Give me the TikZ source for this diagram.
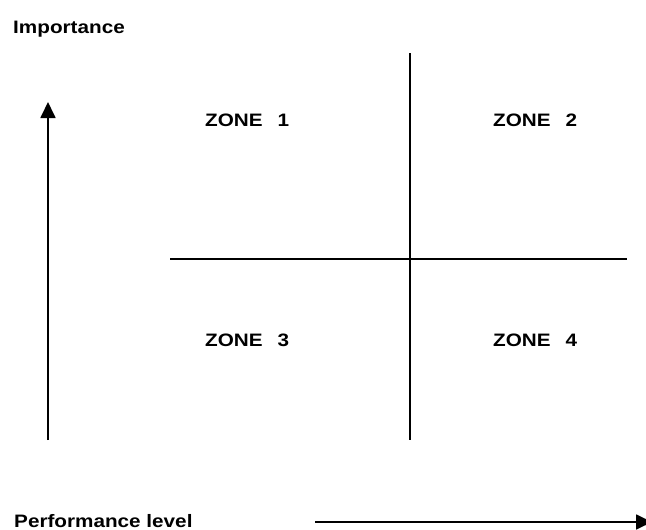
\documentclass[tikz,border=0pt]{standalone}
\usepackage{fontspec}
\setmainfont{Liberation Sans}[FakeStretch=1.15]
\usetikzlibrary{arrows.meta, positioning}
\tikzset{
  axislabel/.style={font=\bfseries\fontsize{18}{21}\selectfont, inner sep=0pt},
  zonelabel/.style={axislabel},
  axis/.style={-{Triangle[length=16pt,width=15pt]}, line width=1.8pt},
  divider/.style={line width=1.8pt},
}
\newcommand{\zonegap}{\hspace{15pt}}

\begin{document}
\begin{tikzpicture}[x=1pt, y=-1pt]
  \useasboundingbox (0,0) rectangle (646,530);

  % quadrant grid
  \coordinate (gridtop) at (410,53);
  \coordinate (gridbottom) at (410,440);
  \coordinate (gridleft) at (170,259);
  \coordinate (gridright) at (627,259);
  \draw[divider] (gridtop) -- (gridbottom);
  \draw[divider] (gridleft) -- (gridright);

  % axes
  \coordinate (impstart) at (48,440);
  \coordinate (impend) at (48,102);
  \coordinate (perfstart) at (315,522);
  \coordinate (perfend) at (652,522);
  \draw[axis] (impstart) -- (impend);
  \draw[axis] (perfstart) -- (perfend);

  \node[axislabel, anchor=base west] (importance) at (13,33) {Importance};
  \node[axislabel, anchor=base west] (performance) at (14,527) {Performance level};

  \node[zonelabel, anchor=base west] (zone1) at (205,126) {ZONE\zonegap1};
  \node[zonelabel, anchor=base west] (zone2) at (493,126) {ZONE\zonegap2};
  \node[zonelabel, anchor=base west] (zone3) at (205,346) {ZONE\zonegap3};
  \node[zonelabel, anchor=base west] (zone4) at (493,346) {ZONE\zonegap4};
\end{tikzpicture}
\end{document}
